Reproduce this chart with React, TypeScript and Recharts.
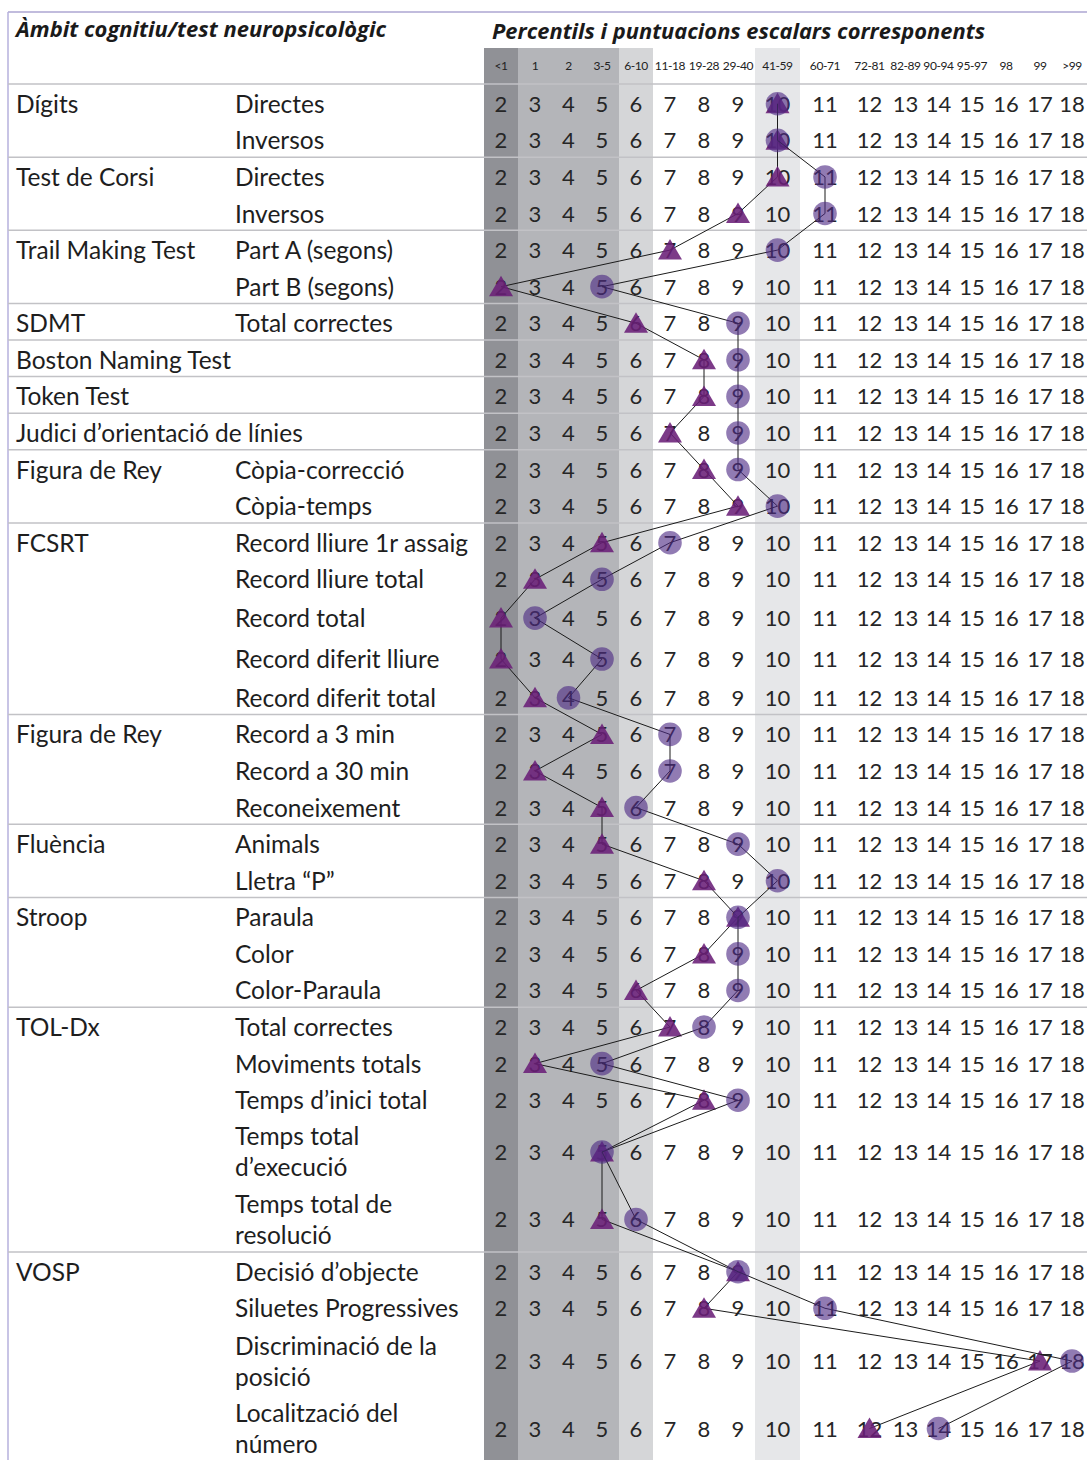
import { ScatterChart, Scatter, XAxis, YAxis, ReferenceArea, ReferenceLine } from "recharts";

const percentiles = ["<1", "1", "2", "3-5", "6-10", "11-18", "19-28", "29-40", "41-59", "60-71", "72-81", "82-89", "90-94", "95-97", "98", "99", ">99"];
const scaledScores = [2, 3, 4, 5, 6, 7, 8, 9, 10, 11, 12, 13, 14, 15, 16, 17, 18];

const groups = ["Dígits", "Test de Corsi", "Trail Making Test", "SDMT", "Boston Naming Test", "Token Test", "Judici d’orientació de línies", "Figura de Rey", "FCSRT", "Figura de Rey", "Fluència", "Stroop", "TOL-Dx", "VOSP"];
const groupSizes = [2, 2, 2, 1, 1, 1, 1, 2, 5, 3, 2, 3, 5, 4];

const subtests = [
  "Directes", "Inversos",
  "Directes", "Inversos",
  "Part A (segons)", "Part B (segons)",
  "Total correctes",
  "", "", "",
  "Còpia-correcció", "Còpia-temps",
  "Record lliure 1r assaig", "Record lliure total", "Record total", "Record diferit lliure", "Record diferit total",
  "Record a 3 min", "Record a 30 min", "Reconeixement",
  "Animals", "Lletra “P”",
  "Paraula", "Color", "Color-Paraula",
  "Total correctes", "Moviments totals", "Temps d’inici total", "Temps total\nd’execució", "Temps total de\nresolució",
  "Decisió d’objecte", "Siluetes Progressives", "Discriminació de la\nposició", "Localització del\nnúmero",
];

// puntuació escalar per fila
const circleScores = [10, 10, 11, 11, 10, 5, 9, 9, 9, 9, 9, 10, 7, 5, 3, 5, 4, 7, 7, 6, 9, 10, 9, 9, 9, 8, 5, 9, 5, 6, 9, 11, 18, 14];
const triangleScores = [10, 10, 10, 9, 7, 2, 6, 8, 8, 7, 8, 9, 5, 3, 2, 2, 3, 5, 3, 5, 5, 8, 9, 8, 6, 7, 3, 8, 5, 5, 9, 8, 17, 12];

// layout (px)
const colWidths = [34, 34, 33, 34, 34, 34, 34, 34, 45, 50, 39, 33, 33, 34, 34, 34, 30];
const rowHeights = [
  36.6, 36.6, 36.6, 36.6, 36.6, 36.6, 36.6, 36.6, 36.6, 36.6, 36.6, 36.6, 36.6, 36.6,
  41, 41, 36.6,
  36.6, 36.6, 36.6, 36.6, 36.6, 36.6, 36.6, 36.6, 36.6, 36.6, 36.6,
  67, 68,
  36.6, 36.6, 69, 66,
];

const colEdges = colWidths.reduce((acc, w) => [...acc, acc[acc.length - 1] + w], [0]);
const colCenters = colWidths.map((w, i) => colEdges[i] + w / 2);
const plotW = colEdges[colEdges.length - 1];
const scoreX = (s: number) => colCenters[scaledScores.indexOf(s)];

const rowEdges = rowHeights.reduce((acc, h) => [...acc, acc[acc.length - 1] + h], [0]);
// text sits a little below the geometric middle of each row
const rowCenters = rowHeights.map((h, i) => rowEdges[i] + h / 2 + 1.5);
const totalH = rowEdges[rowEdges.length - 1];

const groupStarts = groupSizes.reduce((acc, n) => [...acc, acc[acc.length - 1] + n], [0]);
const separators = groupStarts.slice(1, -1).map((r) => rowEdges[r]);

const HEADER = 36;
const LEFT = -476;
const FONT = "Lato, 'Open Sans', sans-serif";

const gridData = rowCenters.flatMap((y) => scaledScores.map((s) => ({ x: scoreX(s), y, label: s })));
const headerData = percentiles.map((p, i) => ({ x: colCenters[i], y: -HEADER / 2, label: p }));
const circleData = circleScores.map((s, i) => ({ x: scoreX(s), y: rowCenters[i] }));
const triangleData = triangleScores.map((s, i) => ({ x: scoreX(s), y: rowCenters[i] }));

const NumberCell = (p: any) => (
  <text x={p.cx} y={p.cy} dy={8} textAnchor="middle" fontSize={22} fill="#262626" fontFamily={FONT}>
    {p.payload.label}
  </text>
);

const HeaderCell = (p: any) => (
  <text x={p.cx} y={p.cy} dy={4.5} textAnchor="middle" fontSize={12} letterSpacing={-0.4} fill="#222" fontFamily={FONT}>
    {p.payload.label}
  </text>
);

const CircleMark = (p: any) => <circle cx={p.cx} cy={p.cy} r={11.8} fill="#4e2a84" fillOpacity={0.62} />;

const TriangleMark = (p: any) => (
  <polygon
    points={`${p.cx},${p.cy - 11} ${p.cx - 12},${p.cy + 9.5} ${p.cx + 12},${p.cy + 9.5}`}
    fill="#6a1f78"
    fillOpacity={0.88}
  />
);

const RowLabel = (props: any) => {
  const { y, payload } = props;
  const r = rowCenters.indexOf(payload.value);
  const g = groupStarts.indexOf(r);
  const lines = (subtests[r] || "").split("\n");
  const first = lines.length > 1 ? -6.5 : 9;
  return (
    <g fontFamily={FONT} fontSize={24.5} fill="#1e1e1e">
      {g >= 0 && g < groups.length && (
        <text x={16} y={y} dy={9}>{groups[g]}</text>
      )}
      <text x={235} y={y}>
        {lines.map((l, k) => (
          <tspan key={k} x={235} dy={k === 0 ? first : 31}>{l}</tspan>
        ))}
      </text>
    </g>
  );
};

export default function App() {
  return (
    <div style={{ position: "absolute", left: 0, top: 0, width: 1087, height: 1460, background: "#fff" }}>
      <ScatterChart width={1087} height={1460} margin={{ top: 48, right: 0, bottom: 0, left: 8 }}>
        <XAxis type="number" dataKey="x" domain={[0, plotW]} hide />
        <YAxis
          type="number"
          dataKey="y"
          domain={[-HEADER, totalH]}
          reversed
          width={476}
          ticks={rowCenters}
          interval={0}
          tick={RowLabel}
          axisLine={false}
          tickLine={false}
        />
        <ReferenceArea x1={colEdges[0]} x2={colEdges[1]} y1={-HEADER} y2={totalH} fill="#909196" fillOpacity={1} />
        <ReferenceArea x1={colEdges[1]} x2={colEdges[4]} y1={-HEADER} y2={totalH} fill="#b4b5b9" fillOpacity={1} />
        <ReferenceArea x1={colEdges[4]} x2={colEdges[5]} y1={-HEADER} y2={totalH} fill="#d5d6d8" fillOpacity={1} />
        <ReferenceArea x1={colEdges[8]} x2={colEdges[9]} y1={-HEADER} y2={totalH} fill="#e6e7e9" fillOpacity={1} />
        <ReferenceLine
          segment={[{ x: LEFT, y: -72 }, { x: plotW, y: -72 }]}
          stroke="#aca6d2"
          strokeWidth={1.5}
          ifOverflow="visible"
        />
        <ReferenceLine
          segment={[{ x: LEFT, y: -72 }, { x: LEFT, y: totalH }]}
          stroke="#b6b0dc"
          strokeWidth={1.5}
          ifOverflow="visible"
        />
        <ReferenceLine
          segment={[{ x: LEFT, y: 0 }, { x: plotW, y: 0 }]}
          stroke="#c2c2c6"
          strokeWidth={1.5}
          ifOverflow="visible"
        />
        {separators.map((y) => (
          <ReferenceLine
            key={y}
            segment={[{ x: LEFT, y }, { x: plotW, y }]}
            stroke="#c2c2c6"
            strokeWidth={1.5}
            ifOverflow="visible"
          />
        ))}
        <Scatter data={headerData} shape={HeaderCell} isAnimationActive={false} />
        <Scatter data={gridData} shape={NumberCell} isAnimationActive={false} />
        <Scatter
          data={triangleData}
          shape={TriangleMark}
          line={{ stroke: "#1b1b1b", strokeWidth: 1 }}
          lineType="joint"
          isAnimationActive={false}
        />
        <Scatter
          data={circleData}
          shape={CircleMark}
          line={{ stroke: "#1b1b1b", strokeWidth: 1 }}
          lineType="joint"
          isAnimationActive={false}
        />
      </ScatterChart>
      <svg width={1087} height={50} style={{ position: "absolute", left: 0, top: 0, pointerEvents: "none" }}>
        <text
          x={16}
          y={37}
          fontSize={22}
          fontWeight={700}
          fontStyle="italic"
          fontFamily="'Open Sans', sans-serif"
          fill="#1a1a1a"
          textLength={370}
          lengthAdjust="spacingAndGlyphs"
        >
          Àmbit cognitiu/test neuropsicològic
        </text>
        <text
          x={492}
          y={39}
          fontSize={22}
          fontWeight={700}
          fontStyle="italic"
          fontFamily="'Open Sans', sans-serif"
          fill="#1a1a1a"
          textLength={493}
          lengthAdjust="spacingAndGlyphs"
        >
          Percentils i puntuacions escalars corresponents
        </text>
      </svg>
    </div>
  );
}
